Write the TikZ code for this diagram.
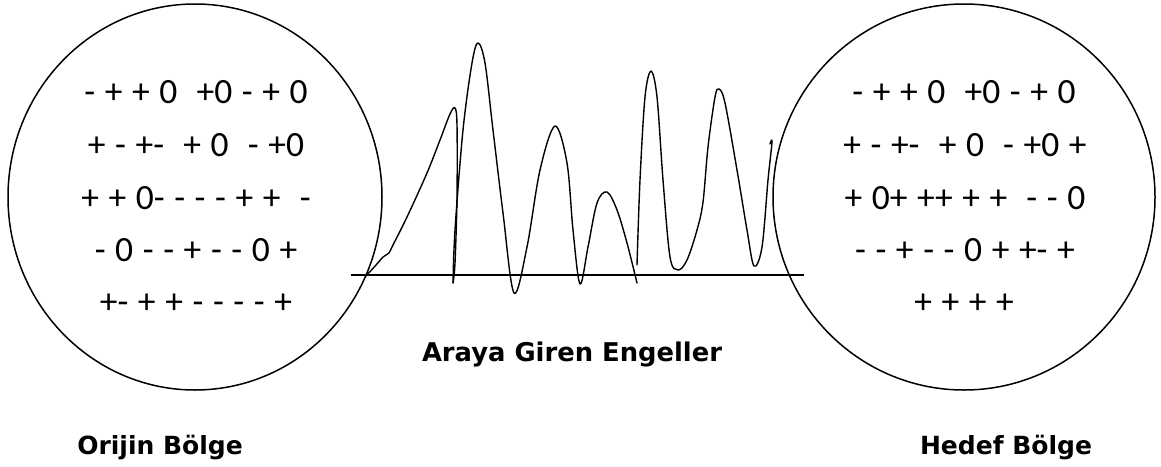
\documentclass[tikz,border=0pt]{standalone}
\usepackage{fontspec}
\usetikzlibrary{shapes.geometric}
\newfontfamily\calfont{Carlito}
\newfontfamily\verdfont{DejaVu Sans}
\newcommand{\signfont}{\calfont\fontsize{35.5}{40}\selectfont\spaceskip=9.6pt plus 0pt minus 0pt\relax}
\begin{document}
\begin{tikzpicture}[x=1pt,y=-1pt,
  region/.style={draw, ellipse, line width=1.5pt, inner sep=0pt},
  signs/.style={anchor=base, inner sep=0pt, font=\signfont},
  lbl/.style={anchor=base, inner sep=0pt, font=\verdfont\bfseries\fontsize{25}{30}\selectfont},
  wave/.style={line width=1.4pt, line join=round, line cap=round}]
\useasboundingbox (0,0) rectangle (1161,466);
% regions
\node[region, minimum width=374pt, minimum height=386pt] (orig) at (195,197) {};
\node[region, minimum width=382pt, minimum height=386pt] (dest) at (964,197) {};
% signs left
\node[signs] (l1) at (196,103) {- + + 0\ \ +0 - + 0};
\node[signs] (l2) at (196,156) {+ - +-\ \ + 0\ \ - +0};
\node[signs] (l3) at (196,209) {+ + 0- - - - + +\ \ -};
\node[signs] (l4) at (196,261) {- 0 - - + - - 0 +};
\node[signs] (l5) at (196,313) {+- + + - - - - +};
% signs right
\node[signs] (r1) at (964,103) {- + + 0\ \ +0 - + 0};
\node[signs] (r2) at (965,156) {+ - +-\ \ + 0\ \ - +0 +};
\node[signs] (r3) at (965,209) {+ 0+ ++ + +\ \ - - 0};
\node[signs] (r4) at (965,261) {- - + - - 0 + +- +};
\node[signs] (r5) at (964,313) {+ + + +};
% ground line
\coordinate (g1) at (351,275);
\coordinate (g2) at (804,275);
\draw[line width=1.4pt] (g1) -- (g2);
% obstacles
\draw[wave] plot[smooth, tension=0.55] coordinates {(366,276) (376,265) (383,257) (386,255) (389,253) (393,245) (407,217) (427,173) (440,140) (450,114) (455,108) (457,125) (457,197) (455,263) (453,283)};
\draw[wave] plot[smooth, tension=0.55] coordinates {(453,283) (455,230) (463,130) (472,63) (478,43) (485,63) (493,130) (503,213) (514,293) (527,247) (540,170) (555,126) (567,163) (573,230) (580,284) (588,247) (597,203) (607,192) (617,210) (627,243) (637,283)};
\draw[wave] plot[smooth, tension=0.55] coordinates {(637,265) (640,180) (645,97) (651,71) (657,97) (663,180) (670,257) (678,270) (687,260) (697,230) (703,202) (708,147) (715,97) (719,89) (725,103) (737,170) (747,230) (754,266) (762,247) (768,180) (772,142) (770,144)};
% labels
\node[lbl, font=\verdfont\bfseries\fontsize{25.8}{30}\selectfont] (obst) at (572,361) {Araya Giren Engeller};
\node[lbl] (origlbl) at (160,454) {Orijin Bölge};
\node[lbl] (destlbl) at (1006,454) {Hedef Bölge};
\end{tikzpicture}
\end{document}
